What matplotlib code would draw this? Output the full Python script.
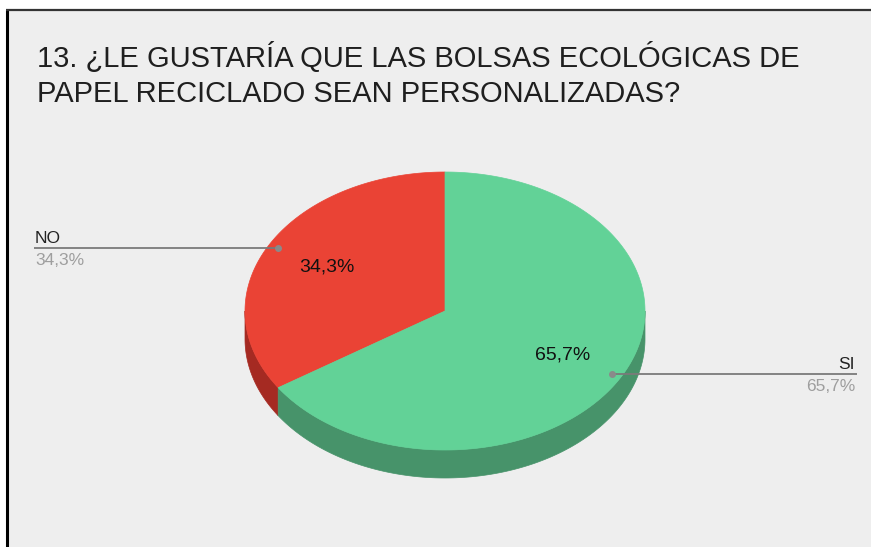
import numpy as np
import matplotlib
matplotlib.use("Agg")
import matplotlib.pyplot as plt
from matplotlib.patches import Polygon, Rectangle

plt.rcParams['font.family'] = ['Liberation Sans', 'DejaVu Sans']

# ---- data ----
title_lines = ["13. ¿LE GUSTARÍA QUE LAS BOLSAS ECOLÓGICAS DE",
               "PAPEL RECICLADO SEAN PERSONALIZADAS?"]
categories = ["NO", "SI"]
values = [34.3, 65.7]
top_colors = ["#ea4335", "#62d297"]
side_colors = ["#a52a22", "#47936a"]

W, H = 871, 547
fig = plt.figure(figsize=(W / 100, H / 100), dpi=100)
fig.patch.set_facecolor("white")
ax = fig.add_axes([0, 0, 1, 1])
ax.set_xlim(0, W)
ax.set_ylim(H, 0)
ax.axis("off")

# background panel + borders
ax.add_patch(Rectangle((7, 10), W, H, facecolor="#eeeeee", edgecolor="none", zorder=0))
ax.plot([7, 7], [10, H], color="black", lw=2.2, zorder=1, solid_capstyle="butt")
ax.plot([6, W], [10, 10], color="#333333", lw=1.6, zorder=1, solid_capstyle="butt")

# title
ax.text(37, 66.5, title_lines[0], fontsize=21, color="#1f1f1f", va="baseline", ha="left")
ax.text(37, 101.5, title_lines[1], fontsize=21, color="#1f1f1f", va="baseline", ha="left")

# pie geometry (pixels)
cx, cy, rx, ry, depth = 445, 311, 200, 139, 28


def pt(theta_deg, f=1.0, dy=0.0):
    t = np.radians(theta_deg)
    return cx + f * rx * np.cos(t), cy - f * ry * np.sin(t) + dy


total = float(sum(values))
spans = [v / total * 360.0 for v in values]
# NO starts at 12 o'clock going counter-clockwise; SI fills the rest
starts = [90.0, 90.0 + spans[0]]
wedges = [(s, s + sp) for s, sp in zip(starts, spans)]

# side walls (visible for 180..360 degrees)
for (a0, a1), sc in zip(wedges, side_colors):
    for off in (0.0, 360.0):
        s0 = max(a0 - off, 180.0)
        s1 = min(a1 - off, 360.0)
        if s1 > s0:
            th = np.linspace(s0, s1, 200)
            top = [pt(t) for t in th]
            bot = [pt(t, dy=depth) for t in th[::-1]]
            ax.add_patch(Polygon(top + bot, closed=True, facecolor=sc,
                                 edgecolor=sc, lw=0.5, zorder=2))

# top faces
for (a0, a1), tc in zip(wedges, top_colors):
    th = np.linspace(a0, a1, 400)
    poly = [(cx, cy)] + [pt(t) for t in th]
    ax.add_patch(Polygon(poly, closed=True, facecolor=tc, edgecolor=tc, lw=0.5, zorder=3))


def fmt(v):
    return f"{v:.1f}".replace(".", ",") + "%"


# labels
for i, ((a0, a1), cat, v) in enumerate(zip(wedges, categories, values)):
    mid = (a0 + a1) / 2.0
    ix, iy = pt(mid, 0.67)
    ax.text(ix, iy, fmt(v), fontsize=14, color="#111111", ha="center", va="center", zorder=5)
    dx, dyy = pt(mid, 0.95)
    if np.cos(np.radians(mid)) < 0:
        xend, ha, tx = 34, "left", 35
    else:
        xend, ha, tx = 857, "right", 855
    ax.plot([dx, xend], [dyy, dyy], color="#7a7a7a", lw=1.3, zorder=4, solid_capstyle="butt")
    ax.plot([dx], [dyy], marker="o", ms=4, color="#8a8a8a", zorder=5)
    ax.text(tx, dyy - 5, cat, fontsize=12.5, color="#222222", ha=ha, va="baseline", zorder=5)
    ax.text(tx, dyy + 5, fmt(v), fontsize=12.5, color="#9e9e9e", ha=ha, va="top", zorder=5)

fig.savefig("out.png", dpi=100, facecolor="white")
